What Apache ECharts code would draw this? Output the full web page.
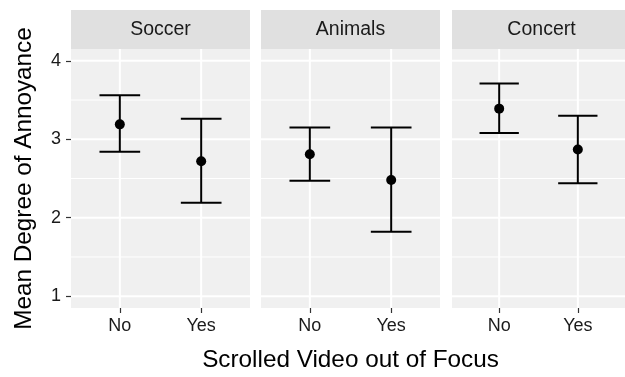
<!DOCTYPE html>
<html>
<head>
<meta charset="utf-8">
<script src="https://cdn.jsdelivr.net/npm/echarts@6/dist/echarts.min.js"></script>
<style>html,body{margin:0;padding:0;background:#fff}#chart{width:625px;height:377px}</style>
</head>
<body>
<div id="chart"></div>
<script>
const facets = ['Soccer', 'Animals', 'Concert'];
const categories = ['No', 'Yes'];
const xPositions = [1, 2];
const meanValues  = [[3.19, 2.72], [2.81, 2.48], [3.39, 2.87]];
const lowerValues = [[2.84, 2.19], [2.47, 1.82], [3.08, 2.44]];
const upperValues = [[3.56, 3.26], [3.15, 3.15], [3.71, 3.30]];
const yTicks = [1, 2, 3, 4];
const yMinorLines = [1.5, 2.5, 3.5];
const yTitle = 'Mean Degree of Annoyance';
const xTitle = 'Scrolled Video out of Focus';

const FONT = 'Liberation Sans, Arial, Helvetica, sans-serif';
const panelLefts = [71, 261, 452];
const panelW = 179, panelTop = 49, panelH = 259;
const stripTop = 10, stripH = 39;
const X_MIN = 0.4, X_MAX = 2.6, Y_MIN = 0.85, Y_MAX = 4.15;
const PANEL_BG = '#F0F0F0', STRIP_BG = '#E0E0E0';

const grids = [], xAxes = [], yAxes = [], series = [], graphics = [];

facets.forEach((f, i) => {
  grids.push({left: panelLefts[i], top: panelTop, width: panelW, height: panelH,
    show: true, backgroundColor: PANEL_BG, borderWidth: 0, containLabel: false});
  xAxes.push({
    type: 'value', gridIndex: i, min: X_MIN, max: X_MAX,
    axisLine: {show: false},
    axisTick: {show: true, customValues: xPositions, length: 5, lineStyle: {color: '#333', width: 1.2}},
    axisLabel: {show: true, customValues: xPositions, margin: 9, fontSize: 18, fontFamily: FONT, color: '#1a1a1a',
      formatter: v => categories[Math.round(v) - 1] || ''},
    splitLine: {show: false},
    name: i === 1 ? xTitle : '', nameLocation: 'middle', nameGap: 40,
    nameTextStyle: {fontSize: 24.3, fontFamily: FONT, color: '#000'}
  });
  yAxes.push({
    type: 'value', gridIndex: i, min: Y_MIN, max: Y_MAX,
    axisLine: {show: false},
    axisTick: {show: i === 0, customValues: yTicks, length: 5, lineStyle: {color: '#333', width: 1.2}},
    axisLabel: {show: i === 0, customValues: yTicks, margin: 10, fontSize: 18, fontFamily: FONT, color: '#1a1a1a'},
    splitLine: {show: false},
    name: i === 0 ? yTitle : '', nameLocation: 'middle', nameGap: 35, nameRotate: 90,
    nameTextStyle: {fontSize: 24.3, fontFamily: FONT, color: '#000'}
  });
  // grid lines (minor horizontal, major horizontal, vertical)
  const hData = yMinorLines.map(v => [X_MIN, v, 1]).concat(yTicks.map(v => [X_MIN, v, 2]));
  series.push({
    type: 'custom', xAxisIndex: i, yAxisIndex: i, silent: true, z: 1,
    data: hData,
    renderItem: (params, api) => {
      const cs = params.coordSys;
      const y = api.coord([X_MIN, api.value(1)])[1];
      return {type: 'line', shape: {x1: cs.x, y1: y, x2: cs.x + cs.width, y2: y},
        style: {stroke: '#fff', lineWidth: api.value(2) === 2 ? 2 : 1}};
    }
  });
  series.push({
    type: 'custom', xAxisIndex: i, yAxisIndex: i, silent: true, z: 1,
    data: xPositions.map(v => [v, Y_MIN]),
    renderItem: (params, api) => {
      const cs = params.coordSys;
      const x = api.coord([api.value(0), Y_MIN])[0];
      return {type: 'line', shape: {x1: x, y1: cs.y, x2: x, y2: cs.y + cs.height},
        style: {stroke: '#fff', lineWidth: 2}};
    }
  });
  // error bars
  series.push({
    type: 'custom', xAxisIndex: i, yAxisIndex: i, silent: true, z: 3,
    data: xPositions.map((x, j) => [x, lowerValues[i][j], upperValues[i][j]]),
    renderItem: (params, api) => {
      const x = api.value(0), lo = api.value(1), hi = api.value(2);
      const pLo = api.coord([x, lo]), pHi = api.coord([x, hi]);
      const cL = api.coord([x - 0.25, lo])[0], cR = api.coord([x + 0.25, lo])[0];
      const st = {stroke: '#000', lineWidth: 2};
      return {type: 'group', children: [
        {type: 'line', shape: {x1: pLo[0], y1: pLo[1], x2: pHi[0], y2: pHi[1]}, style: st},
        {type: 'line', shape: {x1: cL, y1: pLo[1], x2: cR, y2: pLo[1]}, style: st},
        {type: 'line', shape: {x1: cL, y1: pHi[1], x2: cR, y2: pHi[1]}, style: st}
      ]};
    }
  });
  series.push({
    type: 'scatter', xAxisIndex: i, yAxisIndex: i, z: 4, silent: true,
    symbol: 'circle', symbolSize: 10, itemStyle: {color: '#000', opacity: 1},
    data: xPositions.map((x, j) => [x, meanValues[i][j]])
  });
  graphics.push({type: 'rect', shape: {x: panelLefts[i], y: stripTop, width: panelW, height: stripH},
    style: {fill: STRIP_BG}, z: 0});
  graphics.push({type: 'text', x: panelLefts[i] + panelW / 2, y: stripTop + stripH / 2,
    style: {text: f, fontSize: 19.5, fontFamily: FONT, fill: '#1a1a1a', align: 'center', verticalAlign: 'middle'}, z: 1});
});

const chart = echarts.init(document.getElementById('chart'), null, {renderer: 'canvas'});
chart.setOption({
  animation: false,
  backgroundColor: '#fff',
  grid: grids, xAxis: xAxes, yAxis: yAxes, series: series, graphic: graphics
});
</script>
</body>
</html>
